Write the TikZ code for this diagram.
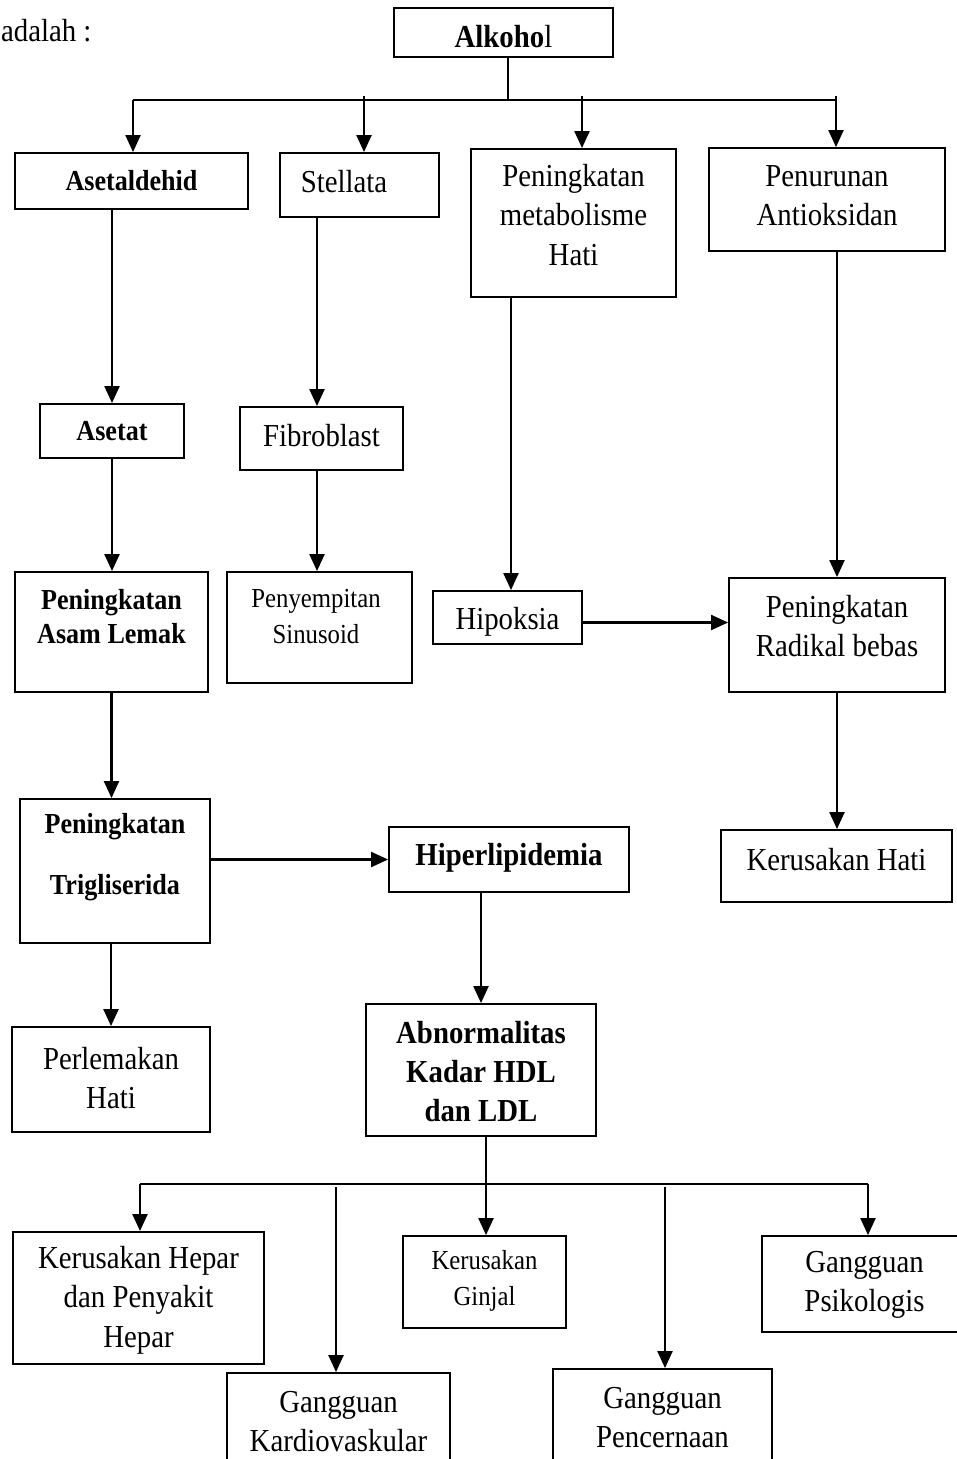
\documentclass[tikz,border=0pt]{standalone}
\usepackage{fontspec}
\setmainfont{Liberation Serif}[FakeStretch=0.9]
\usetikzlibrary{arrows.meta}

\tikzset{
  box/.style={draw, line width=1.9pt, inner sep=0pt},
  txt/.style={align=center, font=\fontsize{32}{39.5}\selectfont},
  txts/.style={align=center, font=\fontsize{27.5}{35.5}\selectfont},
  txtb/.style={align=center, font=\fontsize{29}{34}\selectfont\bfseries},
  txtB/.style={align=center, font=\fontsize{32}{39}\selectfont\bfseries},
  link/.style={line width=2.3pt},
  arr/.style={-{Triangle[length=17pt,width=15pt]}, line width=2.3pt}
}

\begin{document}
\begin{tikzpicture}[x=1pt, y=-1pt]
    \useasboundingbox (0,0) rectangle (956,1459);

    % Intro text and root
    \node[txt, anchor=base east] (intro) at (95,41) {adalah :};
    \node[box, minimum width=219pt, minimum height=49pt, label={[txtB, yshift=-4.5pt]center:Alkoho{\mdseries l}}] (alkohol) at (503.5,32.5) {};

    % First row
    \node[box, minimum width=233pt, minimum height=56pt, label={[txtb]center:Asetaldehid}] (aset) at (131.5,181) {};
    \node[box, minimum width=159pt, minimum height=64pt, label={[txt, xshift=-15.5pt, yshift=3pt]center:Stellata}] (stellata) at (359.5,185) {};
    \node[box, minimum width=205pt, minimum height=148pt, label={[txt, yshift=8pt]center:Peningkatan\\metabolisme\\Hati}] (metab) at (573.5,223) {};
    \node[box, minimum width=236pt, minimum height=103pt, label={[txt, yshift=4pt]center:Penurunan\\Antioksidan}] (penurunan) at (827,199.5) {};

    % Second row
    \node[box, minimum width=144pt, minimum height=54pt, label={[txtb]center:Asetat}] (asetat) at (112,431) {};
    \node[box, minimum width=163pt, minimum height=63pt, label={[txt, yshift=2.5pt]center:Fibroblast}] (fibro) at (321.5,438.5) {};

    % Third row
    \node[box, minimum width=193pt, minimum height=120pt, label={[txtb, yshift=15pt]center:Peningkatan\\Asam Lemak}] (lemak) at (111.5,632) {};
    \node[box, minimum width=185pt, minimum height=111pt, label={[txts, xshift=-3.5pt, yshift=11pt]center:Penyempitan\\Sinusoid}] (sinusoid) at (319.5,627.5) {};
    \node[box, minimum width=149pt, minimum height=53pt, label={[txt, yshift=-4.5pt]center:Hipoksia}] (hipoksia) at (507.5,617.5) {};
    \node[box, minimum width=216pt, minimum height=114pt, label={[txt, yshift=9pt]center:Peningkatan\\Radikal bebas}] (radikal) at (837,635) {};

    % Fourth row
    \node[box, minimum width=190pt, minimum height=144pt, label={[txtb, yshift=13.5pt]center:Peningkatan\\[27pt]Trigliserida}] (trigli) at (115,871) {};
    \node[box, minimum width=240pt, minimum height=65pt, label={[txtB, yshift=1.5pt]center:Hiperlipidemia}] (hiper) at (509,859.5) {};
    \node[box, minimum width=231pt, minimum height=72pt, label={[txt, yshift=6pt]center:Kerusakan Hati}] (kerhati) at (836.5,866) {};

    % Fifth row
    \node[box, minimum width=198pt, minimum height=105pt, label={[txt, yshift=1.5pt]center:Perlemakan\\Hati}] (perlemakan) at (111,1079.5) {};
    \node[box, minimum width=230pt, minimum height=132pt, label={[txtB, yshift=-2pt]center:Abnormalitas\\Kadar HDL\\dan LDL}] (abnormal) at (481,1070) {};

    % Effects row
    \node[box, minimum width=251pt, minimum height=132pt, label={[txt, yshift=-2pt]center:Kerusakan Hepar\\dan Penyakit\\Hepar}] (hepar) at (138.5,1298) {};
    \node[box, minimum width=163pt, minimum height=92pt, label={[txts, yshift=1pt]center:Kerusakan\\Ginjal}] (ginjal) at (484.5,1282) {};
    \node[box, minimum width=205pt, minimum height=96pt, label={[txt, yshift=-1pt]center:Gangguan\\Psikologis}] (psiko) at (864.5,1284) {};
    \node[box, minimum width=223pt, minimum height=104pt, label={[txt, yshift=3.5pt]center:Gangguan\\Kardiovaskular}] (kardio) at (338.5,1425) {};
    \node[box, minimum width=219pt, minimum height=104pt, label={[txt, yshift=3.5pt]center:Gangguan\\Pencernaan}] (cerna) at (662.5,1421) {};

    % Top branching
    \coordinate (bm) at (508,100);
    \coordinate (b1) at (133,100);
    \coordinate (b2) at (364,96);
    \coordinate (b3) at (582,96);
    \coordinate (b4) at (836,96);
    \draw[link] (alkohol.south -| bm) -- (bm);
    \draw[link] (b1) -- (b4 |- b1);
    \draw[arr] (b1) -- (b1 |- aset.north);
    \draw[arr] (b2) -- (b2 |- stellata.north);
    \draw[arr] (b3) -- (b3 |- metab.north);
    \draw[arr] (b4) -- (b4 |- penurunan.north);

    % Chains
    \draw[arr] (aset.south -| asetat) -- (asetat.north);
    \draw[arr] (asetat.south) -- (asetat.south |- lemak.north);
    \draw[arr] (lemak.south) -- (lemak.south |- trigli.north);
    \draw[arr] (trigli.south -| perlemakan) -- (perlemakan.north);
    \draw[arr] ([xshift=-4.5pt]fibro.north |- stellata.south) -- ([xshift=-4.5pt]fibro.north);
    \draw[arr] ([xshift=-4.5pt]fibro.south) -- ([xshift=-4.5pt]fibro.south |- sinusoid.north);
    \draw[arr] ([xshift=3.5pt]hipoksia.north |- metab.south) -- ([xshift=3.5pt]hipoksia.north);
    \draw[arr] (penurunan.south -| radikal) -- (radikal.north);
    \draw[arr] ([yshift=-5pt]hipoksia.east) -- ([yshift=-5pt]hipoksia.east -| radikal.west);
    \draw[arr] (radikal.south) -- (radikal.south |- kerhati.north);
    \draw[arr] (trigli.east |- hiper) -- (hiper.west);
    \draw[arr] (hiper.south -| abnormal) -- (abnormal.north);

    % Bottom branching
    \coordinate (c1) at (140,1184);
    \coordinate (c2) at (336,1187);
    \coordinate (c3) at (486,1184);
    \coordinate (c4) at (665,1187);
    \coordinate (c5) at (868,1184);
    \draw[link] (abnormal.south -| c3) -- (c3);
    \draw[link] (c1) -- (c5);
    \draw[arr] (c1) -- (c1 |- hepar.north);
    \draw[arr] (c2) -- (c2 |- kardio.north);
    \draw[arr] (c3) -- (c3 |- ginjal.north);
    \draw[arr] (c4) -- (c4 |- cerna.north);
    \draw[arr] (c5) -- (c5 |- psiko.north);
\end{tikzpicture}
\end{document}
